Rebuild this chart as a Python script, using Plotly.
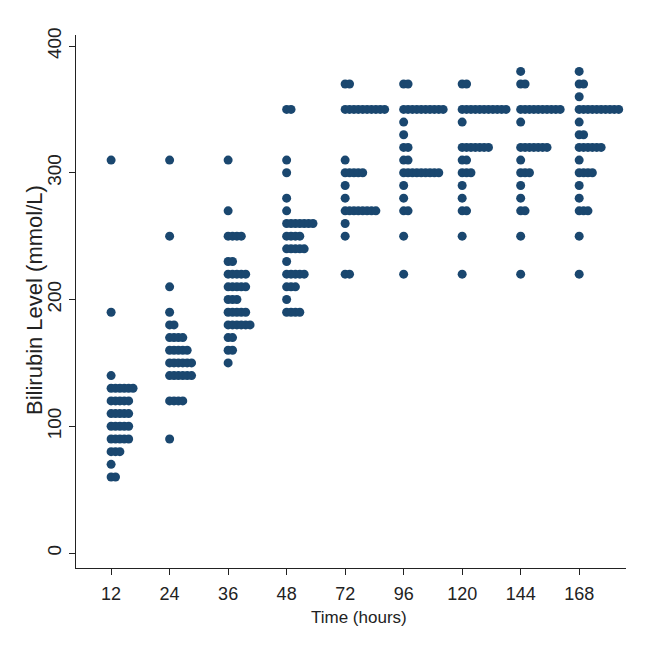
import plotly.graph_objects as go

times = ["12", "24", "36", "48", "72", "96", "120", "144", "168"]

# bilirubin levels (mmol/L) and number of babies at each level, per time point
levels_12 = [310, 190, 140, 130, 120, 110, 100, 90, 80, 70, 60]
counts_12 = [1, 1, 1, 6, 5, 5, 5, 5, 3, 1, 2]

levels_24 = [310, 250, 210, 190, 180, 170, 160, 150, 140, 120, 90]
counts_24 = [1, 1, 1, 1, 2, 4, 5, 6, 6, 4, 1]

levels_36 = [310, 270, 250, 230, 220, 210, 200, 190, 180, 170, 160, 150]
counts_36 = [1, 1, 4, 2, 5, 5, 3, 5, 6, 2, 2, 1]

levels_48 = [350, 310, 300, 280, 270, 260, 250, 240, 230, 220, 210, 200, 190]
counts_48 = [2, 1, 1, 1, 1, 7, 4, 5, 1, 5, 3, 1, 4]

levels_72 = [370, 350, 310, 300, 290, 280, 270, 260, 250, 220]
counts_72 = [2, 10, 1, 5, 1, 1, 8, 1, 1, 2]

levels_96 = [370, 350, 340, 330, 320, 310, 300, 290, 280, 270, 250, 220]
counts_96 = [2, 10, 1, 1, 2, 2, 9, 1, 1, 2, 1, 1]

levels_120 = [370, 350, 340, 320, 310, 300, 290, 280, 270, 250, 220]
counts_120 = [2, 11, 1, 7, 2, 3, 1, 1, 2, 1, 1]

levels_144 = [380, 370, 350, 340, 320, 310, 300, 290, 280, 270, 250, 220]
counts_144 = [1, 2, 10, 1, 7, 1, 3, 1, 1, 2, 1, 1]

levels_168 = [380, 370, 360, 350, 340, 330, 320, 310, 300, 290, 280, 270, 250, 220]
counts_168 = [1, 2, 1, 10, 1, 2, 6, 1, 4, 1, 1, 3, 1, 1]

y_ticks = [0, 100, 200, 300, 400]

columns = [
    (levels_12, counts_12), (levels_24, counts_24), (levels_36, counts_36),
    (levels_48, counts_48), (levels_72, counts_72), (levels_96, counts_96),
    (levels_120, counts_120), (levels_144, counts_144), (levels_168, counts_168),
]

STEP = 0.075  # horizontal offset between stacked dots (category units)
xs, ys = [], []
for i, (lv, ct) in enumerate(columns):
    for v, n in zip(lv, ct):
        for k in range(n):
            xs.append(i + k * STEP)
            ys.append(v)

NAVY = "#1a476f"
INK = "#222222"
fig = go.Figure(go.Scatter(
    x=xs, y=ys, mode="markers",
    marker=dict(size=9, color=NAVY, line=dict(width=0)),
    hoverinfo="y",
))

FONT = "Liberation Sans, Arial, sans-serif"
OFF = 8  # page body margin in the browser
W = H = 652 - OFF
L, R, T, B = 76 - OFF, 26, 35 - OFF, 84
PW, PH = W - L - R, H - T - B


def px(xp):
    return (xp - OFF - L) / PW


def py(yp):
    return (H - B - (yp - OFF)) / PH


fig.update_layout(
    width=W, height=H,
    margin=dict(l=L, r=R, t=T, b=B),
    paper_bgcolor="white", plot_bgcolor="white",
    showlegend=False,
    font=dict(family=FONT, size=14, color=INK),
    annotations=[
        dict(text="Time (hours)", xref="paper", yref="paper",
             x=px(359), y=py(617),
             xanchor="center", yanchor="middle", showarrow=False,
             font=dict(size=17, family=FONT, color=INK)),
        dict(text="Bilirubin Level (mmol/L)", xref="paper", yref="paper",
             x=px(34), y=py(300), textangle=-90,
             xanchor="center", yanchor="middle", showarrow=False,
             font=dict(size=22, family=FONT, color=INK)),
    ],
)
fig.update_xaxes(
    range=[-0.6, 8.8], tickmode="array",
    tickvals=list(range(len(times))), ticktext=times,
    showline=True, linecolor=INK, linewidth=1.2,
    ticks="outside", ticklen=6, tickcolor=INK,
    showgrid=False, zeroline=False, automargin=False,
    ticklabelstandoff=3,
    tickfont=dict(size=18),
)
fig.update_yaxes(
    range=[-11.8, 408.7], tickvals=y_ticks,
    tickangle=-90,
    showline=True, linecolor=INK, linewidth=1.2,
    ticks="outside", ticklen=6, tickcolor=INK,
    showgrid=False, zeroline=False, automargin=False,
    ticklabelstandoff=0,
    tickfont=dict(size=19),
)
fig.write_html("out.html")
